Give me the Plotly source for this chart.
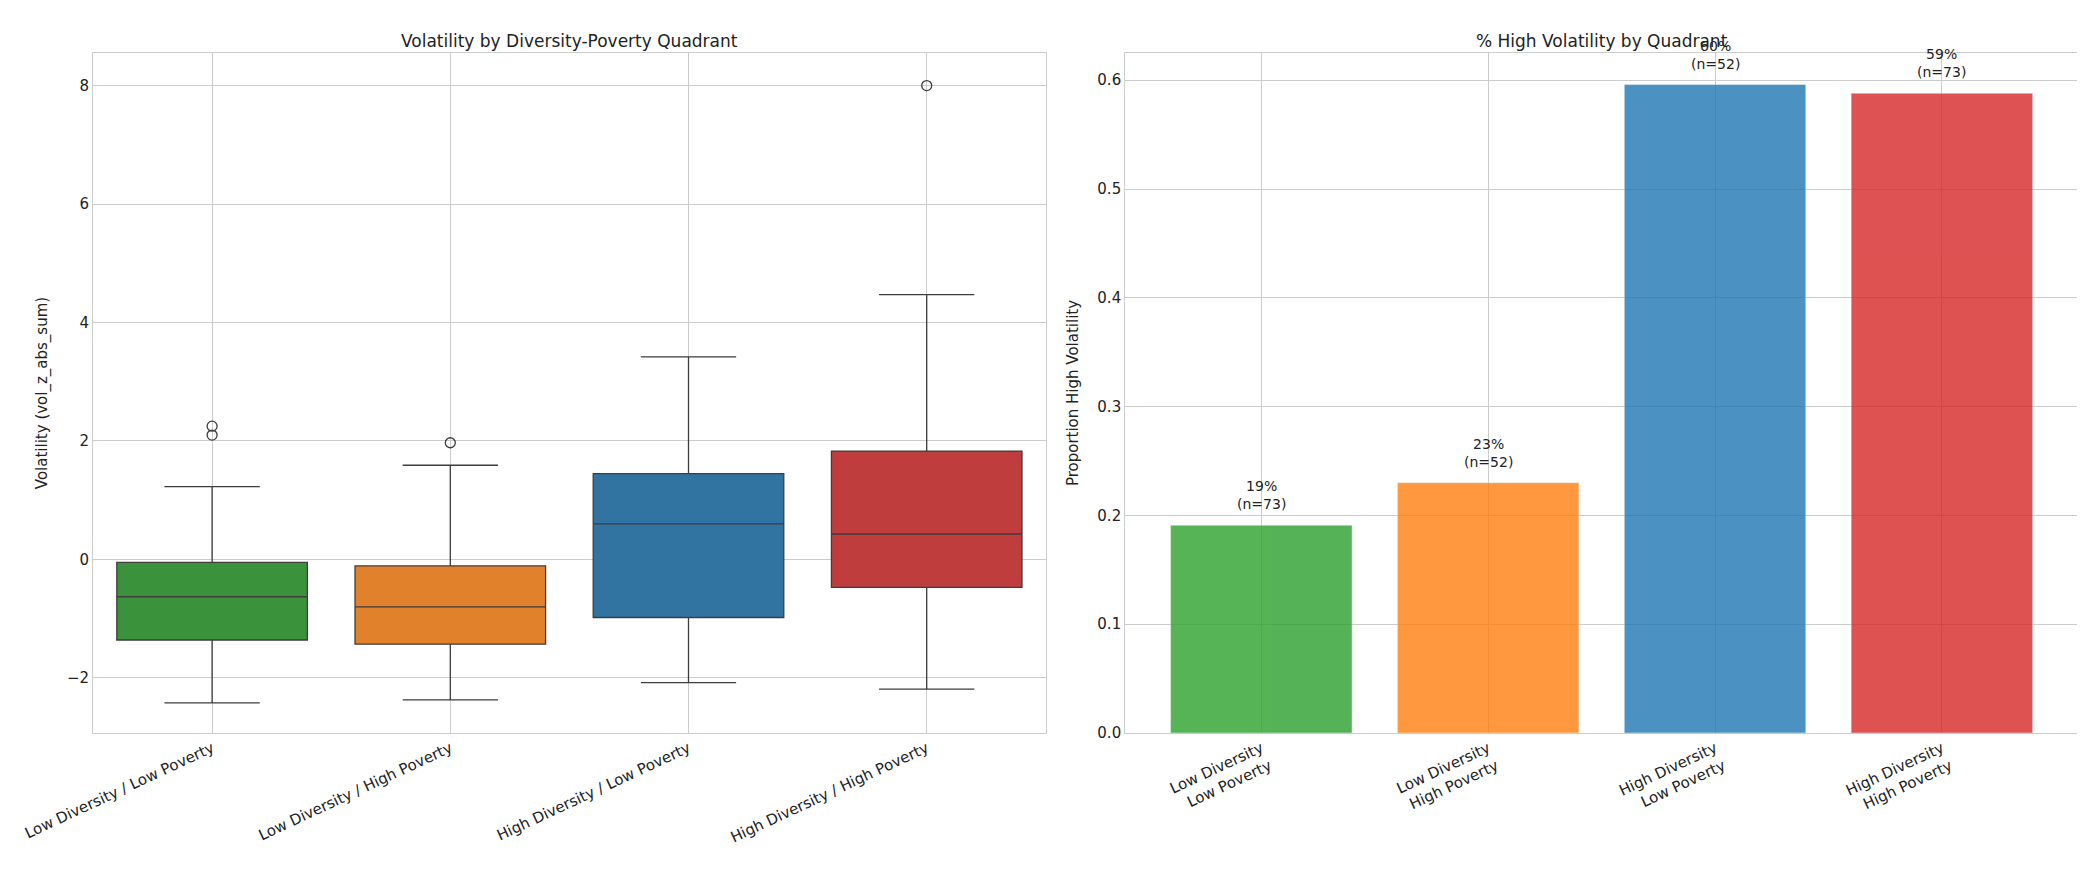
import plotly.graph_objects as go
from plotly.subplots import make_subplots

quadrants = ["Low Diversity / Low Poverty", "Low Diversity / High Poverty",
             "High Diversity / Low Poverty", "High Diversity / High Poverty"]
bar_labels = ["Low Diversity<br>Low Poverty", "Low Diversity<br>High Poverty",
              "High Diversity<br>Low Poverty", "High Diversity<br>High Poverty"]
box_colors = ["#3a923a", "#e1812c", "#3274a1", "#c03d3e"]
bar_colors = ["#2ca02c", "#ff7f0e", "#1f77b4", "#d62728"]

q1 = [-1.36, -1.43, -0.98, -0.47]
median = [-0.63, -0.80, 0.60, 0.43]
q3 = [-0.05, -0.11, 1.45, 1.83]
lower = [-2.42, -2.37, -2.08, -2.19]
upper = [1.23, 1.59, 3.42, 4.47]
outliers = [[2.10, 2.25], [1.97], [], [8.0]]

prop_high = [0.191, 0.230, 0.596, 0.588]
counts = [73, 52, 52, 73]

fig = make_subplots(rows=1, cols=2, horizontal_spacing=0.04,
                    subplot_titles=["Volatility by Diversity-Poverty Quadrant",
                                    "% High Volatility by Quadrant"])

for i, q in enumerate(quadrants):
    fig.add_trace(go.Box(x=[q], q1=[q1[i]], median=[median[i]], q3=[q3[i]],
                         lowerfence=[lower[i]], upperfence=[upper[i]],
                         fillcolor=box_colors[i], line=dict(color="#3d3d3d", width=1.3),
                         width=0.8, showlegend=False), 1, 1)
    if outliers[i]:
        fig.add_trace(go.Scatter(x=[q] * len(outliers[i]), y=outliers[i], mode="markers",
                                 marker=dict(symbol="circle-open", size=10, color="#3d3d3d",
                                             line=dict(width=1.3)),
                                 showlegend=False), 1, 1)

fig.add_trace(go.Bar(x=bar_labels, y=prop_high, marker=dict(color=bar_colors, opacity=0.8),
                     width=0.8, showlegend=False), 1, 2)
for lab, p, n in zip(bar_labels, prop_high, counts):
    fig.add_annotation(x=lab, y=p + 0.01, text=f"{p:.0%}<br>(n={n})", showarrow=False,
                       yanchor="bottom", font=dict(size=14, color="#222"), xref="x2", yref="y2")

axis_style = dict(showline=True, linecolor="#cccccc", mirror=True, gridcolor="#cccccc",
                  tickfont=dict(size=15, color="#222"), ticks="")
fig.update_xaxes(**axis_style, tickangle=-25, showgrid=True)
fig.update_yaxes(**axis_style, zeroline=False)
fig.update_yaxes(range=[-2.93, 8.55], tickvals=[-2, 0, 2, 4, 6, 8],
                 ticktext=["\u22122", "0", "2", "4", "6", "8"],
                 title=dict(text="Volatility (vol_z_abs_sum)", font=dict(size=15)), row=1, col=1)
fig.update_yaxes(range=[0, 0.625], dtick=0.1, tickformat=".1f",
                 title=dict(text="Proportion High Volatility", font=dict(size=15)), row=1, col=2)
fig.update_xaxes(range=[-0.5, 3.5], row=1, col=1)
fig.update_xaxes(range=[-0.6, 3.6], row=1, col=2)

fig.update_annotations(selector=dict(text="Volatility by Diversity-Poverty Quadrant"), font=dict(size=17))
fig.update_annotations(selector=dict(text="% High Volatility by Quadrant"), font=dict(size=17))

fig.update_layout(width=2085, height=885, plot_bgcolor="white", paper_bgcolor="white",
                  font=dict(family="DejaVu Sans", color="#222"),
                  margin=dict(l=85, r=15, t=45, b=160))
fig.write_html("out.html")
